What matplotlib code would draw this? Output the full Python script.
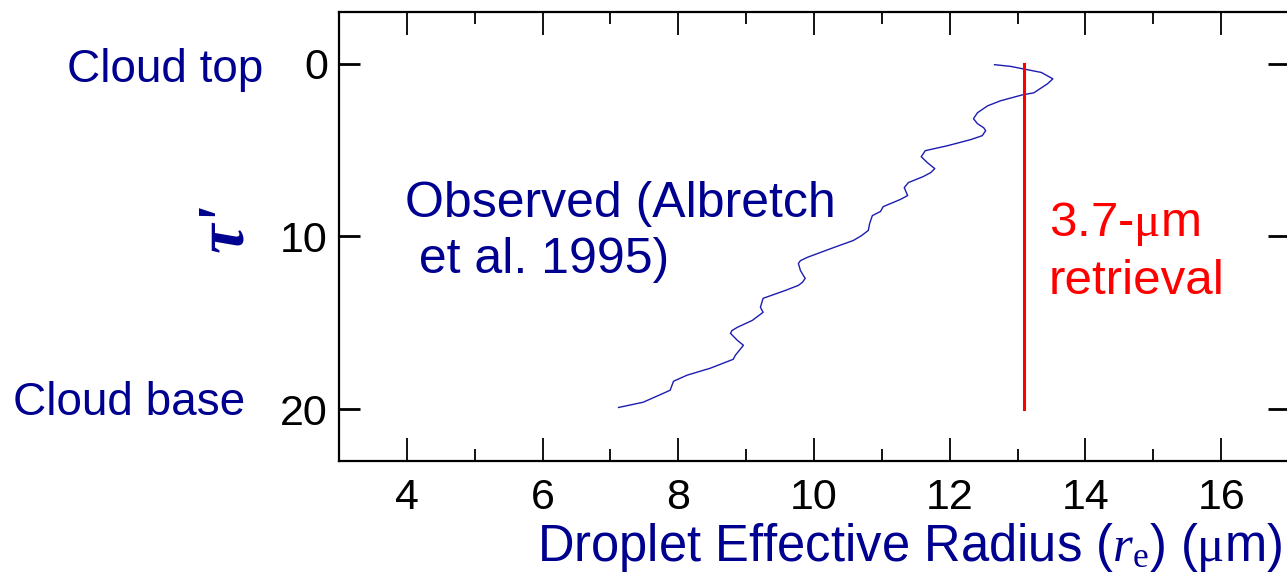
import matplotlib
matplotlib.use("Agg")
import matplotlib.pyplot as plt
from matplotlib.ticker import MultipleLocator, FixedLocator

# ---- data ----
obs_radius = [12.66, 12.90, 13.09, 13.35, 13.52, 13.44, 13.24, 13.07, 12.75, 12.56,
              12.41, 12.35, 12.41, 12.50, 12.53, 12.48, 12.31, 11.97, 11.64, 11.58,
              11.67, 11.78, 11.72, 11.61, 11.39, 11.33, 11.38, 11.27, 11.02, 10.98,
              10.86, 10.82, 10.80, 10.70, 10.58, 10.29, 9.90, 9.80, 9.77, 9.80,
              9.87, 9.83, 9.77, 9.58, 9.25, 9.21, 9.25, 9.09, 8.87, 8.79,
              8.77, 8.87, 8.96, 8.84, 8.81, 8.47, 8.13, 7.93, 7.88, 7.78,
              7.48, 7.12]
obs_tau = [0.05, 0.15, 0.30, 0.50, 0.87, 1.16, 1.68, 1.80, 2.14, 2.43,
           2.83, 3.18, 3.47, 3.70, 3.87, 4.16, 4.39, 4.74, 5.03, 5.38,
           5.72, 6.07, 6.30, 6.53, 6.88, 7.17, 7.63, 7.86, 8.27, 8.55,
           8.79, 9.25, 9.65, 9.95, 10.23, 10.64, 11.21, 11.40, 11.56, 11.97,
           12.43, 12.65, 12.83, 13.12, 13.58, 14.10, 14.39, 14.86, 15.26, 15.45,
           15.61, 16.01, 16.30, 16.88, 17.11, 17.63, 18.03, 18.38, 18.90, 19.08,
           19.60, 19.90]
retrieval_radius = [13.1, 13.1]
retrieval_tau = [0.0, 20.0]
x_ticks = [4, 6, 8, 10, 12, 14, 16]
y_ticks = [0, 10, 20]

NAVY = "#000090"

plt.rcParams['font.family'] = ['Liberation Sans', 'DejaVu Sans']
plt.rcParams['mathtext.fontset'] = 'custom'
plt.rcParams['mathtext.rm'] = 'Liberation Serif'
plt.rcParams['mathtext.it'] = 'Liberation Serif:italic'
plt.rcParams['mathtext.bf'] = 'Liberation Serif:bold'

fig = plt.figure(figsize=(12.87, 5.86), dpi=100)
W, H = 1287, 586
ax = fig.add_axes([339 / W, 1 - 461 / H, (1289 - 339) / W, (461 - 12) / H])

ax.plot(obs_radius, obs_tau, color="#1c1cb0", lw=1.0, solid_joinstyle='round')
ax.plot(retrieval_radius, retrieval_tau, color="#ff0000", lw=2.2)

ax.set_xlim(3, 17)
ax.set_ylim(23, -3)
ax.xaxis.set_major_locator(FixedLocator(x_ticks))
ax.xaxis.set_minor_locator(MultipleLocator(1))
ax.yaxis.set_major_locator(FixedLocator(y_ticks))
ax.yaxis.set_minor_locator(FixedLocator([]))

for s in ax.spines.values():
    s.set_linewidth(1.6)

ax.tick_params(axis='x', which='major', direction='in', length=16.5, width=1.3,
               top=True, bottom=True, labelsize=31, pad=12)
ax.tick_params(axis='x', which='minor', direction='in', length=8.6, width=1.3,
               top=True, bottom=True)
ax.tick_params(axis='y', which='major', direction='in', length=15, width=2.0,
               left=True, right=True, labelsize=31, pad=8)

fig.text(263 / W, 1 - 70 / H, "Cloud top", color=NAVY, fontsize=33,
         ha='right', va='center')
fig.text(245 / W, 1 - 403 / H, "Cloud base", color=NAVY, fontsize=33,
         ha='right', va='center')
fig.text(226 / W, 1 - 228 / H, "\u03c4'", color=NAVY, fontsize=48,
         family='Liberation Serif', style='italic', weight='bold',
         rotation=90, ha='center', va='center')

fig.text(405 / W, 1 - 232 / H, "Observed (Albretch\n et al. 1995)", color=NAVY,
         fontsize=36, ha='left', va='center', linespacing=1.3)
fig.text(1049 / W, 1 - 252 / H, "3.7-$\\mathrm{\\mu}$m\nretrieval", color="#ff0000",
         fontsize=35.5, ha='left', va='center', linespacing=1.3)

fig.text(1282 / W, 1 - 548 / H,
         "Droplet Effective Radius ($\\mathit{r}_{\\mathrm{e}}$) ($\\mathrm{\\mu}$m)",
         color=NAVY, fontsize=36.5, ha='right', va='center')

fig.savefig("out.png", dpi=100)
